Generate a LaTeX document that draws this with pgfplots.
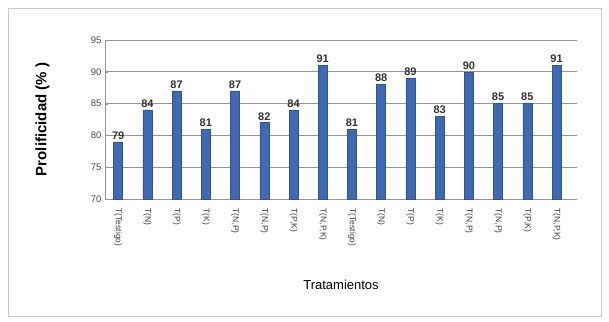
\documentclass[border=0pt]{standalone}
\usepackage{pgfplots}
\pgfplotsset{compat=1.18}
\usepackage{fontspec}
\setmainfont{Liberation Sans}
\definecolor{barblue}{RGB}{62,106,180}
\definecolor{gridgray}{RGB}{150,150,150}
\definecolor{framegray}{RGB}{200,200,200}
\begin{document}
\begin{tikzpicture}
\useasboundingbox (0pt,0pt) rectangle (609pt,321pt);
\draw[framegray, line width=1pt] (8pt,5pt) rectangle (601pt,312pt);
\begin{axis}[
  at={(105pt,122pt)}, anchor=south west,
  scale only axis, width=472pt, height=159pt,
  ymin=70, ymax=95, ytick={70,75,...,95},
  xmin=-0.45, xmax=15.7,
  xtick={0,...,15},
  xticklabels={{T(Testigo)},{T(N)},{T(P)},{T(K)},{T(N,P)},{T(N,P)},{T(P,K)},{T(N,P,K)},{T(Testigo)},{T(N)},{T(P)},{T(K)},{T(N,P)},{T(N,P)},{T(P,K)},{T(N,P,K)}},
  x tick label style={rotate=-90, anchor=west, font=\fontsize{8.5}{9}\selectfont, text=black!75, xshift=6pt},
  y tick label style={font=\fontsize{9.5}{10}\selectfont, text=black!70},
  /pgf/number format/assume math mode=true,
  axis line style={gridgray},
  axis x line*=bottom, axis y line*=left,
  ymajorgrids, grid style={gridgray, line width=0.8pt},
  major tick length=3pt,
  tick style={gridgray},
  xtick style={draw=none},
  ylabel={\bfseries Prolificidad (\% )},
  ylabel style={font=\fontsize{15}{17}\selectfont, at={(axis description cs:-0.11,0.5)}},
  xlabel={Tratamientos},
  xlabel style={font=\fontsize{13}{15}\selectfont, at={(axis description cs:0.5,-0.49)}},
  clip=false,
  nodes near coords,
  nodes near coords style={font=\bfseries\fontsize{11}{12}\selectfont, text=black!80, yshift=-1pt},
]
\addplot[ybar, bar width=9pt, fill=barblue, draw=barblue!80!black] coordinates {
  (0,79) (1,84) (2,87) (3,81) (4,87) (5,82) (6,84) (7,91)
  (8,81) (9,88) (10,89) (11,83) (12,90) (13,85) (14,85) (15,91)
};
\end{axis}
\end{tikzpicture}
\end{document}
